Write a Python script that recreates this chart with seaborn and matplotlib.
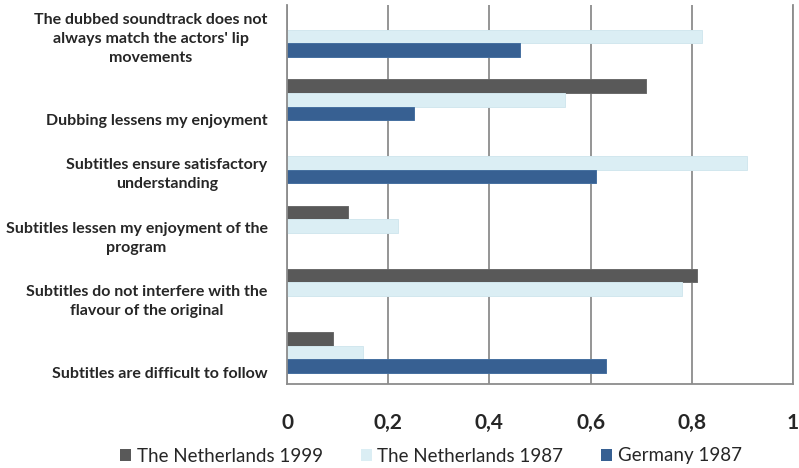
import numpy as np
import pandas as pd
import matplotlib
matplotlib.use("Agg")
import matplotlib.pyplot as plt
from matplotlib.patches import Patch
import seaborn as sns

# Survey statements (top to bottom) and share of respondents agreeing
categories = [
    "The dubbed soundtrack does not\nalways match the actors' lip\nmovements",
    "Dubbing lessens my enjoyment",
    "Subtitles ensure satisfactory\nunderstanding",
    "Subtitles lessen my enjoyment of the\nprogram",
    "Subtitles do not interfere with the\nflavour of the original",
    "Subtitles are difficult to follow",
]
series = ["The Netherlands 1999", "The Netherlands 1987", "Germany 1987"]
nl_1999 = [np.nan, 0.71, np.nan, 0.12, 0.81, 0.09]
nl_1987 = [0.82, 0.55, 0.91, 0.22, 0.78, 0.15]
de_1987 = [0.46, 0.25, 0.61, np.nan, np.nan, 0.63]
x_ticks = [0, 0.2, 0.4, 0.6, 0.8, 1.0]
x_tick_labels = ["0", "0,2", "0,4", "0,6", "0,8", "1"]

colors = ["#595959", "#DBEEF4", "#376092"]
edges = ["#6a6a6a", "#d2e7ee", "#4670a0"]

df = pd.DataFrame({
    "statement": categories * 3,
    "series": sum([[s] * len(categories) for s in series], []),
    "share": nl_1999 + nl_1987 + de_1987,
}).dropna()

sns.set_theme(style="white")
plt.rcParams["font.family"] = ["Lato", "DejaVu Sans"]

fig = plt.figure(figsize=(7.99, 4.68), dpi=100)
ax = fig.add_axes([287 / 799, 1 - 384 / 468, 506 / 799, 379 / 468])

sns.barplot(
    data=df, x="share", y="statement", hue="series",
    order=categories, hue_order=series, palette=colors,
    orient="h", width=0.65, dodge=True, errorbar=None,
    legend=False, ax=ax, saturation=1,
)
for container, ec in zip(ax.containers, edges):
    for bar in container:
        bar.set_edgecolor(ec)
        bar.set_linewidth(0.7)

ax.set_xlim(0, 1)
ax.set_ylim(len(categories) - 0.5, -0.5)
ax.set_xticks(x_ticks, labels=x_tick_labels)
ax.set_yticks(np.arange(len(categories)) + 0.45, labels=categories)
ax.set_xlabel("")
ax.set_ylabel("")

ax.tick_params(axis="x", length=0, pad=21, labelsize=15)
ax.tick_params(axis="y", length=0, pad=14, labelsize=11.5)
for lab in ax.get_xticklabels():
    lab.set_fontweight("bold")
for lab in ax.get_yticklabels():
    lab.set_fontweight("bold")
    lab.set_verticalalignment("bottom")
    lab.set_multialignment("center")
    lab.set_linespacing(1.45)

ax.xaxis.grid(True, color="#8c8c8c", linewidth=1.3)
ax.yaxis.grid(False)
ax.set_axisbelow(True)
ax.spines["top"].set_visible(False)
for side in ["left", "right", "bottom"]:
    ax.spines[side].set_color("#8c8c8c")
    ax.spines[side].set_linewidth(1.3)

handles = [Patch(facecolor=c, edgecolor="none") for c in colors]
fig.legend(
    handles, series, loc="center", bbox_to_anchor=(431 / 799, 1 - 456 / 468),
    ncol=3, frameon=False, fontsize=13.5, handlelength=0.6, handleheight=0.6,
    handletextpad=0.3, columnspacing=2.0,
)

fig.savefig("out.png", dpi=100)
